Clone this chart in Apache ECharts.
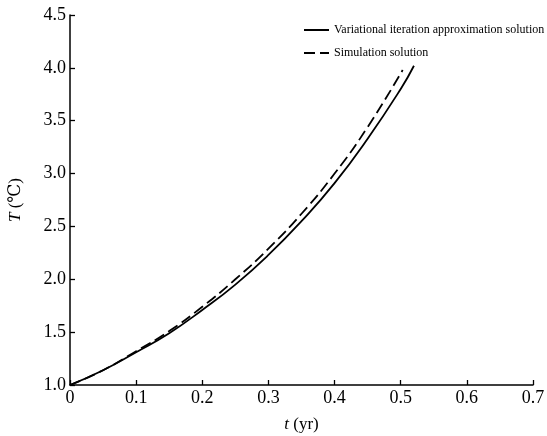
<!DOCTYPE html>
<html>
<head>
<meta charset="utf-8">
<script src="https://cdn.jsdelivr.net/npm/echarts@6/dist/echarts.min.js"></script>
<style>
html, body { margin: 0; padding: 0; background: #fff; }
#chart_1 { width: 547px; height: 436px; }
</style>
</head>
<body>
<div id="chart_1"></div>
<script>
// 曲线数据
var tVar = [0, 0.05, 0.10, 0.15, 0.20, 0.25, 0.30, 0.35, 0.40, 0.45, 0.50, 0.52];
var TVar = [1.00, 1.14, 1.31, 1.49, 1.71, 1.95, 2.23, 2.55, 2.91, 3.33, 3.80, 4.02];
var tSim = [0, 0.05, 0.10, 0.15, 0.20, 0.25, 0.30, 0.35, 0.40, 0.45, 0.503];
var TSim = [1.00, 1.14, 1.32, 1.51, 1.74, 2.00, 2.29, 2.62, 3.00, 3.44, 3.98];
var xTicks = [0, 0.1, 0.2, 0.3, 0.4, 0.5, 0.6, 0.7];
var yTicks = [1.0, 1.5, 2.0, 2.5, 3.0, 3.5, 4.0, 4.5];

var nameVar = 'Variational iteration approximation solution';
var nameSim = 'Simulation solution';

function pairs(xs, ys) {
	var out = [];
	for (var i = 0; i < xs.length; i++) {
		out.push([xs[i], ys[i]]);
	}
	return out;
}

var serif = "'Liberation Serif', 'DejaVu Serif', serif";

var option = {
	animation: false,
	grid: {
		left: 70,
		right: 14,
		top: 15,
		bottom: 51,
		containLabel: false,
		outerBoundsMode: 'none'
	},
	legend: {
		orient: 'vertical',
		left: 298,
		top: 19,
		itemWidth: 25,
		itemHeight: 14,
		itemGap: 11,
		itemStyle: { opacity: 0 },
		textStyle: {
			fontFamily: serif,
			fontSize: 12,
			color: '#000'
		},
		data: [nameVar, nameSim]
	},
	xAxis: {
		type: 'value',
		min: xTicks[0],
		max: xTicks[xTicks.length - 1],
		interval: 0.1,
		name: '{i|t} (yr)',
		nameLocation: 'middle',
		nameGap: 31,
		nameTextStyle: {
			fontFamily: serif,
			fontSize: 17,
			color: '#000',
			rich: {
				i: { fontFamily: serif, fontSize: 17, fontStyle: 'italic', color: '#000' }
			}
		},
		splitLine: { show: false },
		axisLine: { lineStyle: { color: '#000', width: 1.5 } },
		axisTick: { inside: true, length: 5, lineStyle: { color: '#000', width: 1.3 } },
		axisLabel: {
			fontFamily: serif,
			fontSize: 18,
			color: '#000',
			margin: 4,
			formatter: function (v) {
				return v === 0 ? '0' : v.toFixed(1);
			}
		}
	},
	yAxis: {
		type: 'value',
		min: yTicks[0],
		max: yTicks[yTicks.length - 1],
		interval: 0.5,
		name: '{i|T} (\u2103)',
		nameLocation: 'middle',
		nameGap: 46,
		nameRotate: 90,
		nameTextStyle: {
			fontFamily: serif,
			fontSize: 17,
			color: '#000',
			rich: {
				i: { fontFamily: serif, fontSize: 17, fontStyle: 'italic', color: '#000' }
			}
		},
		splitLine: { show: false },
		axisLine: { show: true, lineStyle: { color: '#000', width: 1.5 } },
		axisTick: { show: true, inside: true, length: 5, lineStyle: { color: '#000', width: 1.3 } },
		axisLabel: {
			fontFamily: serif,
			fontSize: 18,
			color: '#000',
			margin: 4,
			formatter: function (v) {
				return v.toFixed(1);
			}
		}
	},
	series: [{
			name: nameVar,
			type: 'line',
			smooth: true,
			showSymbol: false,
			symbol: 'none',
			color: '#000',
			lineStyle: { color: '#000', width: 1.8 },
			data: pairs(tVar, TVar)
		},
		{
			name: nameSim,
			type: 'line',
			smooth: true,
			showSymbol: false,
			symbol: 'none',
			color: '#000',
			lineStyle: { color: '#000', width: 1.8, type: [11, 5] },
			data: pairs(tSim, TSim)
		}
	]
};

var myChart = echarts.init(document.getElementById('chart_1'));
myChart.setOption(option);
</script>
</body>
</html>
